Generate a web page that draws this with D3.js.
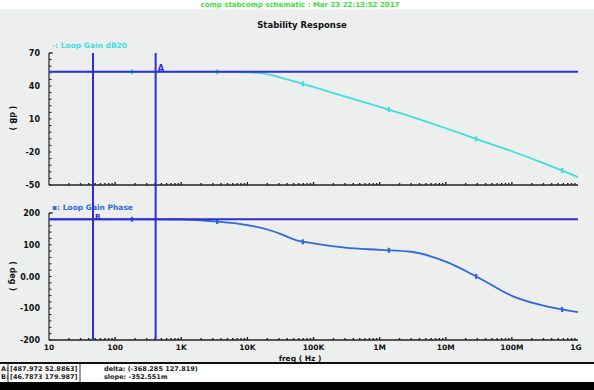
<!DOCTYPE html>
<html>
<head>
<meta charset="utf-8">
<script src="https://cdn.jsdelivr.net/npm/d3@7"></script>
<style>
  body { margin: 0; background: #fff; }
  svg { display: block; }
  text { font-family: "DejaVu Sans", sans-serif; font-weight: bold; }
</style>
</head>
<body>
<script>
// frequencies (Hz) the curves were read at
const freqs = [10, 100, 1e3, 3.5e3, 1e4, 2e4, 3e4, 6e4, 2e5, 6.5e5, 2e6, 1e7, 3e7, 1e8, 3e8, 1e9];
const gainDb = [52.9, 52.9, 52.9, 52.8, 52.4, 50.8, 48.0, 43.0, 33.6, 24.5, 15.5, 1.6, -8.5, -19.3, -30.1, -42.8];
const phaseFreqs = [10, 100, 1e3, 3.5e3, 1e4, 2e4, 3e4, 6e4, 1e5, 3e5, 1e6, 3e6, 1e7, 3e7, 1e8, 3e8, 1e9];
const phaseDeg = [180, 180, 179.5, 173, 162, 148, 136, 112, 104.5, 91, 84, 78, 46.6, -1.6, -61, -92, -112];

// curve markers (symbols on the traces)
const markerFreqs = [180, 3.5e3, 69e3, 1.38e6, 28.8e6, 575e6];

// cursor markers A / B
const markerA = { f: 410, db: 52.8863 };
const markerB = { f: 46.3, deg: 179.987 };

const xTicks = [10, 100, 1e3, 1e4, 1e5, 1e6, 1e7, 1e8, 1e9];
const xTickLabels = ["10", "100", "1K", "10K", "100K", "1M", "10M", "100M", "1G"];
const gainTicks = [70, 40, 10, -20, -50];
const gainTickLabels = ["70", "40", "10", "-20", "-50"];
const phaseTicks = [200, 100, 0, -100, -200];
const phaseTickLabels = ["200", "100", "0.00", "-100", "-200"];

const footerLines = [
  ["A:", "[487.972  52.8863]", "delta: (-368.285  127.819)"],
  ["B:", "[46.7873  179.987]", "slope: -352.551m"]
];

const W = 594, H = 390;
const bg = "#edefef";
const cursorColor = "#2e2ed6";
const gainColor = "#3fdede";
const phaseColor = "#3169db";

const svg = d3.select("body").append("svg")
  .attr("width", W).attr("height", H);

svg.append("rect").attr("width", W).attr("height", H).attr("fill", "#fff");
svg.append("rect").attr("x", 0).attr("y", 9).attr("width", W).attr("height", 353).attr("fill", bg);

// header
svg.append("text").attr("x", 300).attr("y", 6.5).attr("text-anchor", "middle")
  .attr("font-size", 7).attr("fill", "#3be03b").attr("font-weight", "normal")
  .text("comp stabcomp schematic : Mar 23 22:13:52 2017");
svg.append("text").attr("x", 302).attr("y", 28).attr("text-anchor", "middle")
  .attr("font-size", 8.5).attr("fill", "#111")
  .text("Stability Response");

const x = d3.scaleLog().domain([10, 1e9]).range([49, 578]);
const yGain = d3.scaleLinear().domain([-50, 70]).range([185, 53]);
const yPhase = d3.scaleLinear().domain([-200, 200]).range([340, 213]);

function drawAxes(y, ticks, labels, minorStep, showX) {
  const g = svg.append("g");
  const [y0, y1] = y.range();
  g.append("line").attr("x1", x.range()[0]).attr("x2", x.range()[0])
    .attr("y1", y1).attr("y2", y0).attr("stroke", "#222").attr("stroke-width", 1.2);
  g.append("line").attr("x1", x.range()[0]).attr("x2", x.range()[1])
    .attr("y1", y0).attr("y2", y0).attr("stroke", "#222").attr("stroke-width", 1.5);
  g.append("line").attr("x1", x.range()[0]).attr("x2", x.range()[0] + 4)
    .attr("y1", y1).attr("y2", y1).attr("stroke", "#222");

  // minor y ticks
  const d = y.domain();
  for (let v = d[0]; v <= d[1] + 1e-9; v += minorStep) {
    g.append("line").attr("x1", x.range()[0]).attr("x2", x.range()[0] + 2.5)
      .attr("y1", y(v)).attr("y2", y(v)).attr("stroke", "#222");
  }
  // y tick labels
  ticks.forEach((t, i) => {
    g.append("text").attr("x", 40).attr("y", y(t) + 3).attr("text-anchor", "end")
      .attr("font-size", 8).attr("fill", "#111").text(labels[i]);
  });
  // x minor ticks (log)
  const minor = x.ticks().filter(f => f > 10 && f < 1e9);
  minor.forEach(f => {
    const m = f / Math.pow(10, Math.floor(Math.log10(f) + 1e-9));
    const len = Math.abs(m - 1) < 1e-6 ? 3 : 2;
    g.append("line").attr("x1", x(f)).attr("x2", x(f))
      .attr("y1", y0).attr("y2", y0 - len).attr("stroke", "#222").attr("stroke-width", 1.4);
  });
  if (showX) {
    xTicks.forEach((t, i) => {
      g.append("text").attr("x", x(t) + (i === xTicks.length - 1 ? -2 : 0)).attr("y", y0 + 10)
        .attr("text-anchor", "middle").attr("font-size", 7.5).attr("fill", "#111")
        .text(xTickLabels[i]);
    });
  }
}

drawAxes(yGain, gainTicks, gainTickLabels, 6, false);
drawAxes(yPhase, phaseTicks, phaseTickLabels, 20, true);

// axis titles
svg.append("text").attr("transform", "translate(10,118) rotate(90)")
  .attr("text-anchor", "middle").attr("font-size", 8).attr("fill", "#111").text("( dB )");
svg.append("text").attr("transform", "translate(10,276) rotate(90)")
  .attr("text-anchor", "middle").attr("font-size", 8).attr("fill", "#111").text("( deg )");
svg.append("text").attr("x", 300).attr("y", 360.5).attr("text-anchor", "middle")
  .attr("font-size", 7.5).attr("fill", "#111").text("freq ( Hz )");

// legends
svg.append("text").attr("x", 52).attr("y", 48).attr("font-size", 7.5)
  .attr("fill", gainColor).text("-: Loop Gain dB20");
svg.append("text").attr("x", 52).attr("y", 210).attr("font-size", 7.5)
  .attr("fill", phaseColor).text("\u25aa: Loop Gain Phase");

// traces
const gainLine = d3.line().x((d, i) => x(freqs[i])).y(d => yGain(d)).curve(d3.curveMonotoneX);
const phaseLine = d3.line().x((d, i) => x(phaseFreqs[i])).y(d => yPhase(d)).curve(d3.curveMonotoneX);

const gainPath = svg.append("path").attr("d", gainLine(gainDb))
  .attr("fill", "none").attr("stroke", gainColor).attr("stroke-width", 1.8);
const phasePath = svg.append("path").attr("d", phaseLine(phaseDeg))
  .attr("fill", "none").attr("stroke", phaseColor).attr("stroke-width", 1.8);

// symbols on the traces: find y on the path at marker frequency
function yAt(pathSel, px) {
  const node = pathSel.node();
  const L = node.getTotalLength();
  let lo = 0, hi = L;
  for (let k = 0; k < 30; k++) {
    const mid = (lo + hi) / 2;
    if (node.getPointAtLength(mid).x < px) lo = mid; else hi = mid;
  }
  return node.getPointAtLength(lo).y;
}
markerFreqs.forEach(f => {
  const px = x(f);
  svg.append("rect").attr("x", px - 1.2).attr("y", yAt(gainPath, px) - 2.5)
    .attr("width", 2.4).attr("height", 5).attr("fill", gainColor);
  svg.append("rect").attr("x", px - 1.2).attr("y", yAt(phasePath, px) - 2.5)
    .attr("width", 2.4).attr("height", 5).attr("fill", phaseColor);
});

// cursor lines
const cur = svg.append("g").attr("stroke", cursorColor).attr("stroke-width", 2);
cur.append("line").attr("x1", x.range()[0]).attr("x2", x.range()[1])
  .attr("y1", yGain(markerA.db)).attr("y2", yGain(markerA.db));
cur.append("line").attr("x1", x.range()[0]).attr("x2", x.range()[1])
  .attr("y1", yPhase(markerB.deg)).attr("y2", yPhase(markerB.deg));
cur.append("line").attr("x1", x(markerB.f)).attr("x2", x(markerB.f))
  .attr("y1", yGain.range()[1]).attr("y2", yPhase.range()[0]);
cur.append("line").attr("x1", x(markerA.f)).attr("x2", x(markerA.f))
  .attr("y1", yGain.range()[1]).attr("y2", yPhase.range()[0]);

svg.append("text").attr("x", x(markerA.f) + 2).attr("y", yGain(markerA.db) - 1)
  .attr("font-size", 8).attr("fill", cursorColor).text("A");
svg.append("text").attr("x", x(markerB.f) + 2).attr("y", yPhase(markerB.deg) - 0.5)
  .attr("font-size", 7).attr("fill", cursorColor).text("B");

// footer
svg.append("rect").attr("x", 0).attr("y", 362).attr("width", W).attr("height", 2).attr("fill", "#111");
svg.append("rect").attr("x", 0).attr("y", 382).attr("width", W).attr("height", 8).attr("fill", "#000");
svg.append("line").attr("x1", 8).attr("x2", 8).attr("y1", 364).attr("y2", 382).attr("stroke", "#333");
svg.append("line").attr("x1", 80).attr("x2", 80).attr("y1", 364).attr("y2", 382).attr("stroke", "#333");
footerLines.forEach((row, i) => {
  const yy = 370.5 + i * 8;
  svg.append("text").attr("x", 1).attr("y", yy).attr("font-size", 6.5).attr("fill", "#222")
    .attr("font-weight", "normal").text(row[0]);
  svg.append("text").attr("x", 10).attr("y", yy).attr("font-size", 6.5).attr("fill", "#222")
    .attr("font-weight", "normal").text(row[1]);
  svg.append("text").attr("x", 104).attr("y", yy).attr("font-size", 6.5).attr("fill", "#222")
    .attr("font-weight", "normal").text(row[2]);
});
</script>
</body>
</html>
